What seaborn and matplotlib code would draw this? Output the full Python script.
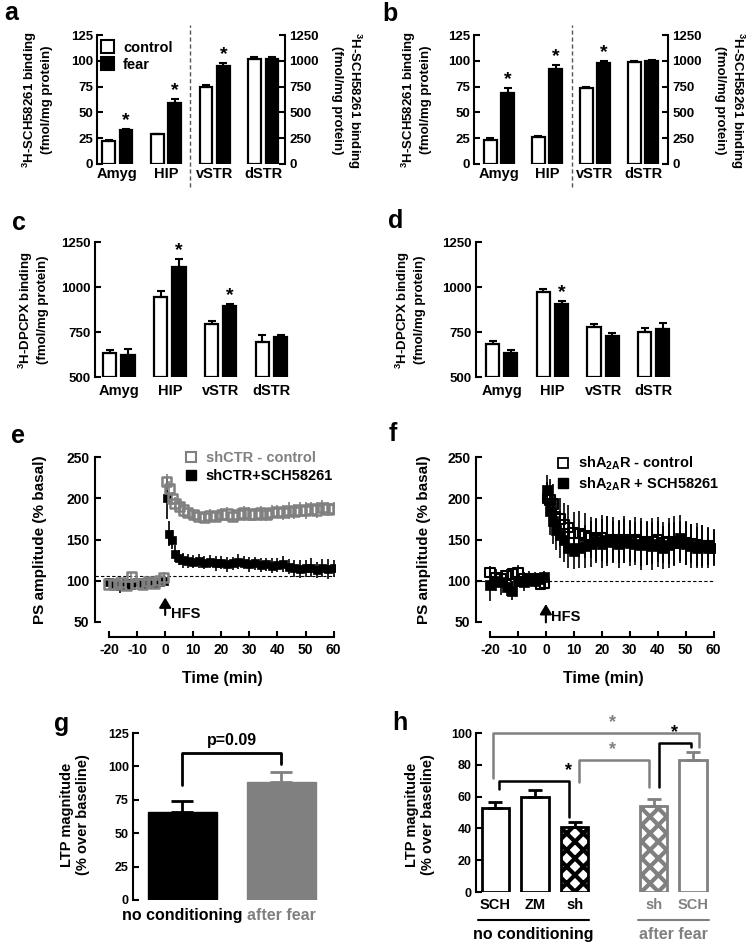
import numpy as np
import pandas as pd
import seaborn as sns
import matplotlib.pyplot as plt
from matplotlib.lines import Line2D
from matplotlib.patches import Patch

sns.set_theme(style="ticks")
plt.rcParams["font.family"] = ["Liberation Sans", "DejaVu Sans"]
plt.rcParams["font.weight"] = "bold"
plt.rcParams["axes.labelweight"] = "bold"
plt.rcParams["axes.unicode_minus"] = False
plt.rcParams["mathtext.fontset"] = "custom"
plt.rcParams["mathtext.rm"] = "Liberation Sans:bold"
plt.rcParams["mathtext.it"] = "Liberation Sans:bold"
plt.rcParams["mathtext.bf"] = "Liberation Sans:bold"
plt.rcParams["mathtext.default"] = "rm"
plt.rcParams["hatch.linewidth"] = 3.0
plt.rcParams["axes.linewidth"] = 1.5
plt.rcParams["axes.edgecolor"] = "black"
plt.rcParams["text.color"] = "black"
plt.rcParams["axes.labelcolor"] = "black"
plt.rcParams["xtick.color"] = "black"
plt.rcParams["ytick.color"] = "black"
plt.rcParams["xtick.direction"] = "in"
plt.rcParams["ytick.direction"] = "in"
plt.rcParams["xtick.major.width"] = 1.5
plt.rcParams["ytick.major.width"] = 1.5
plt.rcParams["xtick.major.size"] = 4
plt.rcParams["ytick.major.size"] = 4

GREY = "#808080"
W, H = 753, 947

# ---- data -------------------------------------------------------------
REGIONS = ["Amyg", "HIP", "vSTR", "dSTR"]
GROUPS = ["control", "fear"]

# a/b: Amyg, HIP read on left axis (0-125); vSTR, dSTR on right axis (0-1250)
A_CTRL = [22, 29, 750, 1020]
A_CTRL_ERR = [1, 0.5, 15, 20]
A_FEAR = [33, 59, 950, 1020]
A_FEAR_ERR = [1, 4, 30, 20]
A_STARS = ["Amyg", "HIP", "vSTR"]

B_CTRL = [23, 26, 740, 990]
B_CTRL_ERR = [2, 1, 10, 10]
B_FEAR = [69, 92, 975, 1000]
B_FEAR_ERR = [5, 4, 20, 10]
B_STARS = ["Amyg", "HIP", "vSTR"]

# c/d: 3H-DPCPX binding
C_CTRL = [635, 945, 795, 695]
C_CTRL_ERR = [15, 35, 15, 40]
C_FEAR = [625, 1110, 895, 725]
C_FEAR_ERR = [30, 45, 10, 10]
C_STARS = ["HIP", "vSTR"]

D_CTRL = [685, 970, 780, 750]
D_CTRL_ERR = [15, 20, 15, 25]
D_FEAR = [635, 905, 730, 765]
D_FEAR_ERR = [15, 15, 15, 35]
D_STARS = ["HIP"]

# e/f: PS amplitude time courses
TIME = [-20, -18, -16, -14, -12, -10, -8, -6, -4, -2, -0.5,
        0.5, 1.5, 2.5, 3.5, 5, 6.5, 8, 10, 12, 14, 16, 18, 20, 22, 24, 26, 28, 30,
        32, 34, 36, 38, 40, 42, 44, 46, 48, 50, 52, 54, 56, 58, 60]

E_CTRL = [96, 95, 98, 94, 105, 97, 96, 99, 97, 100, 104,
          220, 212, 200, 194, 190, 186, 183, 180, 178, 177, 179, 178, 180, 181, 178, 180,
          182, 181, 180, 182, 180, 183, 184, 183, 185, 184, 186, 185, 187, 186, 189, 187, 188]
E_CTRL_ERR = [6, 5, 6, 7, 6, 5, 6, 6, 5, 6, 7,
              10, 9, 8, 8, 7, 8, 7, 7, 8, 7, 8, 7, 8, 8, 7, 8,
              9, 8, 8, 9, 8, 9, 8, 9, 10, 9, 9, 10, 9, 10, 9, 9, 8]
E_SCH = [98, 96, 93, 97, 95, 98, 96, 99, 97, 98, 100,
         200, 157, 150, 133, 128, 125, 124, 123, 124, 122, 123, 121, 122, 120, 121, 123,
         122, 120, 121, 119, 120, 118, 119, 120, 117, 115, 114, 115, 116, 113, 115, 114, 115]
E_SCH_ERR = [5, 6, 8, 5, 6, 5, 7, 6, 5, 6, 7,
             25, 15, 12, 10, 9, 9, 8, 8, 9, 8, 8, 9, 8, 9, 8, 9,
             8, 9, 8, 9, 8, 9, 9, 10, 9, 10, 11, 10, 12, 10, 11, 12, 10]
E_BASELINE = 106

F_CTRL = [110, 104, 102, 106, 108, 110, 102, 100, 103, 96, 97,
          200, 198, 193, 178, 175, 168, 165, 158, 157, 155, 152, 150, 152, 148, 150, 147,
          150, 148, 150, 147, 145, 148, 150, 146, 148, 145, 147, 146, 145, 144, 143, 142, 141]
F_CTRL_ERR = [8, 10, 9, 8, 7, 9, 8, 7, 8, 6, 7,
              20, 25, 24, 22, 25, 26, 27, 26, 28, 27, 25, 26, 28, 30, 27, 26,
              28, 25, 27, 29, 26, 28, 27, 25, 28, 26, 25, 27, 24, 26, 25, 23, 22]
F_SCH = [95, 100, 98, 92, 88, 100, 98, 103, 100, 102, 104,
         210, 185, 172, 162, 155, 150, 140, 136, 140, 142, 145, 148, 145, 150, 147, 145,
         148, 146, 145, 143, 146, 142, 145, 140, 143, 148, 152, 145, 142, 140, 142, 140, 140]
F_SCH_ERR = [20, 12, 15, 10, 12, 8, 10, 9, 8, 7, 8,
             18, 30, 28, 25, 28, 27, 25, 22, 24, 26, 28, 27, 30, 28, 26, 29,
             27, 28, 26, 30, 27, 29, 28, 26, 27, 30, 28, 26, 27, 25, 26, 24, 22]
F_BASELINE = 100

# g: LTP magnitude
G_LABELS = ["no conditioning", "after fear"]
G_VALS = [66, 88]
G_ERR = [8, 8]

# h: LTP magnitude per treatment
H_IDS = ["SCH_nc", "ZM_nc", "sh_nc", "sh_fear", "SCH_fear"]
H_TICKS = ["SCH", "ZM", "sh", "sh", "SCH"]
H_VALS = [53, 60, 41, 54, 83]
H_ERR = [3.5, 4, 3, 4.5, 5]
H_ORDER = ["SCH_nc", "ZM_nc", "sh_nc", "gap", "sh_fear", "SCH_fear"]


# ---- helpers -----------------------------------------------------------
fig = plt.figure(figsize=(W / 100, H / 100), dpi=100)


def px_axes(x0, x1, y0, y1):
    return fig.add_axes([x0 / W, 1 - y1 / H, (x1 - x0) / W, (y1 - y0) / H])


def ftext(x, y, s, **kw):
    return fig.text(x / W, 1 - y / H, s, **kw)


def long_df(ctrl, ctrl_err, fear, fear_err):
    return pd.DataFrame({
        "region": REGIONS * 2,
        "group": ["control"] * 4 + ["fear"] * 4,
        "value": ctrl + fear,
        "err": ctrl_err + fear_err,
    })


def draw_pairs(ax, d, stars):
    sns.barplot(data=d, x="region", y="value", hue="group", order=REGIONS,
                hue_order=GROUPS, palette=["white", "black"], saturation=1,
                edgecolor="black", linewidth=1.6, width=0.72, gap=0.28,
                errorbar=None, legend=False, ax=ax)
    for j, g in enumerate(GROUPS):
        s = d[d.group == g]
        xs = [REGIONS.index(r) + (j - 0.5) * 0.36 for r in s.region]
        ax.errorbar(xs, s.value, yerr=[np.zeros(len(s)), s.err], fmt="none",
                    ecolor="black", elinewidth=1.5, capsize=3, capthick=1.5, zorder=3)
    for r in stars:
        row = d[(d.region == r) & (d.group == "fear")]
        if len(row):
            ax.annotate("*", (REGIONS.index(r) + 0.18, row.value.iloc[0] + row.err.iloc[0]),
                        xytext=(0, 0), textcoords="offset points", ha="center",
                        va="bottom", fontsize=14)
    ax.set_xlabel("")
    ax.set_ylabel("")


def sch_panel(box, xlim, dash_x, ctrl, ctrl_err, fear, fear_err, stars):
    ax = px_axes(*box)
    ax2 = ax.twinx()
    df = long_df(ctrl, ctrl_err, fear, fear_err)
    draw_pairs(ax, df[df.region.isin(REGIONS[:2])], stars)
    draw_pairs(ax2, df[df.region.isin(REGIONS[2:])], stars)
    ax.set_ylim(0, 125)
    ax2.set_ylim(0, 1250)
    ax.set_yticks([0, 25, 50, 75, 100, 125])
    ax2.set_yticks([0, 250, 500, 750, 1000, 1250])
    ax.set_xlim(*xlim)
    ax.set_xticks(range(4))
    ax.set_xticklabels(REGIONS, fontsize=10.5)
    ax.tick_params(axis="x", length=0, pad=2)
    ax.tick_params(axis="y", labelsize=9.5, pad=3)
    ax2.tick_params(axis="y", labelsize=9.5, pad=3)
    ax.spines[["top", "bottom", "right"]].set_visible(False)
    ax2.spines[["top", "bottom", "left"]].set_visible(False)
    ax.spines["left"].set_bounds(0, 125)
    ax2.spines["right"].set_bounds(0, 1250)
    ax.axvline(dash_x, ymin=-0.18, ymax=1.08, clip_on=False, color="#555555",
               lw=1, ls=(0, (3, 2)))
    return ax


def dpcpx_panel(box, xlim, ctrl, ctrl_err, fear, fear_err, stars):
    ax = px_axes(*box)
    df = long_df(ctrl, ctrl_err, fear, fear_err)
    draw_pairs(ax, df, stars)
    for p in ax.patches:
        p.set_y(500)
        p.set_height(p.get_height() - 500)
    ax.set_ylim(500, 1250)
    ax.set_yticks([500, 750, 1000, 1250])
    ax.set_xlim(*xlim)
    ax.set_xticks(range(4))
    ax.set_xticklabels(REGIONS, fontsize=10.5)
    ax.tick_params(axis="x", length=0, pad=5)
    ax.tick_params(axis="y", labelsize=9.5, pad=3)
    ax.spines[["top", "bottom", "right"]].set_visible(False)
    ax.spines["left"].set_bounds(500, 1250)
    return ax


def time_axes(ax):
    ax.set_xlim(-25, 60.5)
    ax.set_ylim(31.7, 255)
    ax.set_xticks(range(-20, 61, 10))
    ax.set_yticks(range(50, 251, 50))
    ax.tick_params(labelsize=10, pad=4)
    ax.spines[["top", "right"]].set_visible(False)
    ax.spines["left"].set_bounds(50, 250)
    ax.spines["bottom"].set_bounds(-20, 60)
    ax.set_xlabel("")
    ax.set_ylabel("")


# ---- a / b --------------------------------------------------------------
ax_a = sch_panel((97, 285, 35, 164), (-0.42, 3.45), 1.49,
                 A_CTRL, A_CTRL_ERR, A_FEAR, A_FEAR_ERR, A_STARS)
ax_a.legend(handles=[Patch(facecolor="white", edgecolor="black", lw=1.5),
                     Patch(facecolor="black", edgecolor="black", lw=1.5)],
            labels=GROUPS, loc="upper left", bbox_to_anchor=(101 / W, 1 - 40 / H),
            bbox_transform=fig.transFigure, frameon=False, fontsize=10.5,
            handlelength=0.9, handleheight=1.0, handletextpad=0.6,
            labelspacing=0.2, borderpad=0, borderaxespad=0)
sch_panel((474, 668, 35, 164), (-0.52, 3.52), 1.52,
          B_CTRL, B_CTRL_ERR, B_FEAR, B_FEAR_ERR, B_STARS)

sch_label = "$^{3}$H-SCH58261 binding\n(fmol/mg protein)"
ftext(37, 100, sch_label, rotation=90, ha="center", va="center", fontsize=9.5)
ftext(347, 100, sch_label, rotation=270, ha="center", va="center", fontsize=9.5)
ftext(416, 100, sch_label, rotation=90, ha="center", va="center", fontsize=9.5)
ftext(730, 100, sch_label, rotation=270, ha="center", va="center", fontsize=9.5)

# ---- c / d --------------------------------------------------------------
dpcpx_panel((95, 297, 242, 377), (-0.47, 3.5), C_CTRL, C_CTRL_ERR, C_FEAR, C_FEAR_ERR, C_STARS)
dpcpx_panel((476, 679, 242, 377), (-0.51, 3.5), D_CTRL, D_CTRL_ERR, D_FEAR, D_FEAR_ERR, D_STARS)
dp_label = "$^{3}$H-DPCPX binding\n(fmol/mg protein)"
ftext(33, 310, dp_label, rotation=90, ha="center", va="center", fontsize=9.5)
ftext(410, 310, dp_label, rotation=90, ha="center", va="center", fontsize=9.5)

# ---- e ------------------------------------------------------------------
df_e = pd.DataFrame({"time": TIME, "ctrl": E_CTRL, "ctrl_err": E_CTRL_ERR,
                     "sch": E_SCH, "sch_err": E_SCH_ERR})
ax_e = px_axes(95, 335, 453, 637)
ax_e.axhline(E_BASELINE, color="black", lw=0.8, ls=(0, (3, 2)), zorder=1)
ax_e.errorbar(df_e.time, df_e.sch, yerr=df_e.sch_err, fmt="none", ecolor="black",
              elinewidth=1.2, zorder=2)
sns.scatterplot(data=df_e, x="time", y="sch", marker="s", s=40, color="black",
                edgecolor="black", linewidth=0.5, ax=ax_e, zorder=3)
ax_e.errorbar(df_e.time, df_e.ctrl, yerr=df_e.ctrl_err, fmt="none", ecolor=GREY,
              elinewidth=1.2, zorder=4)
sns.scatterplot(data=df_e, x="time", y="ctrl", marker="s", s=45, facecolors="none",
                edgecolor=GREY, linewidth=1.8, ax=ax_e, zorder=5)
time_axes(ax_e)
ax_e.annotate("", xy=(0, 83), xytext=(0, 55),
              arrowprops=dict(arrowstyle="-|>,head_width=0.3,head_length=0.5",
                              lw=1.5, color="black"))
ax_e.text(2, 60, "HFS", fontsize=10.5, va="center")
ax_e.legend(handles=[Line2D([], [], ls="none", marker="s", ms=7, mfc="none", mec=GREY, mew=1.5),
                     Line2D([], [], ls="none", marker="s", ms=7, mfc="black", mec="black")],
            labels=["shCTR - control", "shCTR+SCH58261"], labelcolor=[GREY, "black"],
            loc="upper left", bbox_to_anchor=(184 / W, 1 - 451 / H),
            bbox_transform=fig.transFigure, frameon=False, fontsize=10.5,
            handlelength=1.0, handletextpad=0.5, labelspacing=0.3,
            borderpad=0, borderaxespad=0)

# ---- f ------------------------------------------------------------------
df_f = pd.DataFrame({"time": TIME, "ctrl": F_CTRL, "ctrl_err": F_CTRL_ERR,
                     "sch": F_SCH, "sch_err": F_SCH_ERR})
ax_f = px_axes(476, 715, 453, 637)
ax_f.axhline(F_BASELINE, color="black", lw=0.8, ls=(0, (3, 2)), zorder=1)
ax_f.errorbar(df_f.time, df_f.sch, yerr=df_f.sch_err, fmt="none", ecolor="black",
              elinewidth=1.2, zorder=2)
sns.scatterplot(data=df_f, x="time", y="sch", marker="s", s=45, color="black",
                edgecolor="black", linewidth=0.5, ax=ax_f, zorder=3)
ax_f.errorbar(df_f.time, df_f.ctrl, yerr=df_f.ctrl_err, fmt="none", ecolor="black",
              elinewidth=1.2, zorder=4)
sns.scatterplot(data=df_f, x="time", y="ctrl", marker="s", s=45, facecolors="none",
                edgecolor="black", linewidth=1.5, ax=ax_f, zorder=5)
time_axes(ax_f)
ax_f.annotate("", xy=(0, 75), xytext=(0, 46),
              arrowprops=dict(arrowstyle="-|>,head_width=0.3,head_length=0.5",
                              lw=1.5, color="black"))
ax_f.text(2, 56, "HFS", fontsize=10.5, va="center")
ax_f.legend(handles=[Line2D([], [], ls="none", marker="s", ms=7, mfc="white", mec="black", mew=1.3),
                     Line2D([], [], ls="none", marker="s", ms=7, mfc="black", mec="black")],
            labels=["shA$_{2A}$R - control", "shA$_{2A}$R + SCH58261"],
            loc="upper left", bbox_to_anchor=(556 / W, 1 - 455 / H),
            bbox_transform=fig.transFigure, frameon=False, fontsize=10.5,
            handlelength=1.0, handletextpad=0.5, labelspacing=0.2,
            borderpad=0, borderaxespad=0)

for x in (40, 424):
    ftext(x, 540, "PS amplitude (% basal)", rotation=90, ha="center", va="center", fontsize=11)
ftext(222, 678, "Time (min)", ha="center", va="center", fontsize=11.5)
ftext(603, 678, "Time (min)", ha="center", va="center", fontsize=11.5)

# ---- g ------------------------------------------------------------------
df_g = pd.DataFrame({"cond": G_LABELS, "ltp": G_VALS, "err": G_ERR})
g_colors = ["black", GREY]
ax_g = px_axes(133, 326, 733, 900)
sns.barplot(data=df_g, x="cond", y="ltp", hue="cond", palette=g_colors, saturation=1,
            width=0.7, errorbar=None, legend=False, ax=ax_g)
for p, c in zip(ax_g.patches, g_colors):
    p.set_edgecolor(c)
for i, (v, e, c) in enumerate(zip(G_VALS, G_ERR, g_colors)):
    ax_g.errorbar([i], [v], yerr=[[0], [e]], fmt="none", ecolor=c, elinewidth=2,
                  capsize=8, capthick=2, zorder=3)
ax_g.plot([0, 0, 1, 1], [86, 110, 110, 102], color="black", lw=2, clip_on=False)
ax_g.text(0.5, 114, "p=0.09", ha="center", va="bottom", fontsize=11.5)
ax_g.set_ylim(0, 125)
ax_g.set_xlim(-0.5, 1.45)
ax_g.set_yticks([0, 25, 50, 75, 100, 125])
ax_g.tick_params(axis="y", labelsize=9, pad=3)
ax_g.tick_params(axis="x", length=0, labelsize=11.5, pad=6)
for t, c in zip(ax_g.get_xticklabels(), g_colors):
    t.set_color(c)
ax_g.spines[["top", "bottom", "right"]].set_visible(False)
ax_g.spines["left"].set_bounds(0, 125)
ax_g.set_xlabel("")
ax_g.set_ylabel("")
ftext(75, 815, "LTP magnitude\n(% over baseline)", rotation=90, ha="center",
      va="center", fontsize=10.5)

# ---- h ------------------------------------------------------------------
df_h = pd.DataFrame({"cond": H_IDS, "ltp": H_VALS, "err": H_ERR})
h_edge = {"SCH_nc": "black", "ZM_nc": "black", "sh_nc": "black", "sh_fear": GREY, "SCH_fear": GREY}
h_hatch = {"sh_nc": "xx", "sh_fear": "xx"}
ax_h = px_axes(476, 713, 733, 892)
sns.barplot(data=df_h, x="cond", y="ltp", order=H_ORDER, color="white", saturation=1,
            width=0.7, errorbar=None, ax=ax_h)
for p in ax_h.patches:
    key = H_ORDER[int(round(p.get_x() + p.get_width() / 2))]
    p.set_facecolor("white")
    p.set_edgecolor(h_edge[key])
    p.set_linewidth(2)
    if key in h_hatch:
        p.set_hatch(h_hatch[key])
for k, v, e in zip(H_IDS, H_VALS, H_ERR):
    ax_h.errorbar([H_ORDER.index(k)], [v], yerr=[[0], [e]], fmt="none", ecolor=h_edge[k],
                  elinewidth=2, capsize=5, capthick=2, zorder=3)
# significance brackets
ax_h.plot([-0.06, -0.06, 5.15, 5.15], [72, 100, 100, 91], color=GREY, lw=1.8, clip_on=False)
ax_h.plot([0.09, 0.09, 1.86, 1.86], [65, 70, 70, 47], color="black", lw=1.8, clip_on=False)
ax_h.plot([2.11, 2.11, 3.89, 3.89], [69, 83, 83, 66], color=GREY, lw=1.8, clip_on=False)
ax_h.plot([4.14, 4.14, 4.95, 4.95], [66, 94, 94, 91], color="black", lw=1.8, clip_on=False)
for x, y, c in [(2.97, 101, GREY), (1.85, 71, "black"), (2.97, 84, GREY), (4.52, 95, "black")]:
    ax_h.text(x, y, "*", ha="center", va="bottom", fontsize=13, color=c)
ax_h.set_ylim(0, 100)
ax_h.set_xlim(-0.49, 5.5)
ax_h.set_yticks(range(0, 101, 20))
ax_h.set_xticks([H_ORDER.index(k) for k in H_IDS])
ax_h.set_xticklabels(H_TICKS)
ax_h.tick_params(axis="y", labelsize=9, pad=3)
ax_h.tick_params(axis="x", length=0, labelsize=10.5, pad=4)
for t, k in zip(ax_h.get_xticklabels(), H_IDS):
    t.set_color(h_edge[k])
ax_h.spines[["top", "bottom", "right"]].set_visible(False)
ax_h.spines["left"].set_bounds(0, 100)
ax_h.set_xlabel("")
ax_h.set_ylabel("")
ax_h.plot([-0.44, 2.37], [-17.6, -17.6], color="black", lw=1.5, clip_on=False)
ax_h.plot([3.61, 5.4], [-17.6, -17.6], color=GREY, lw=1.5, clip_on=False)
ax_h.text(0.96, -27, "no conditioning", ha="center", va="center", fontsize=11.5)
ax_h.text(4.5, -27, "after fear", ha="center", va="center", fontsize=11.5, color=GREY)
ftext(420, 815, "LTP magnitude\n(% over baseline)", rotation=90, ha="center",
      va="center", fontsize=10.5)

# ---- panel letters ---------------------------------------------------------
for s, x, y in [("a", 4, 13), ("b", 382, 14), ("c", 12, 223), ("d", 388, 221),
                ("e", 11, 436), ("f", 389, 434), ("g", 54, 724), ("h", 392, 723)]:
    ftext(x, y, s, fontsize=18, ha="left", va="center")

fig.savefig("out.png", dpi=100)
